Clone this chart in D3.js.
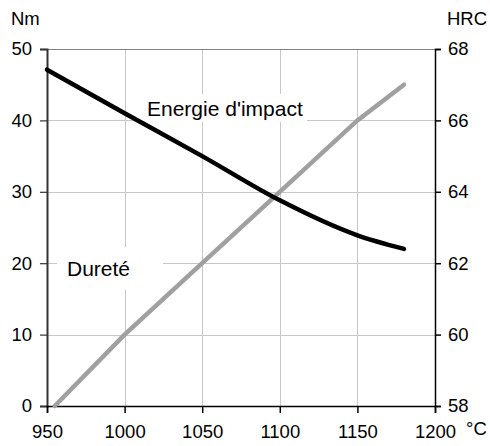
<!DOCTYPE html>
<html>
<head>
<meta charset="utf-8">
<script src="https://cdn.jsdelivr.net/npm/d3@7"></script>
<style>
  html, body { margin: 0; padding: 0; background: #fff; }
  svg text { font-family: "Liberation Sans", Arial, sans-serif; fill: #000; }
</style>
</head>
<body>
<div id="chart"></div>
<script>
// données
const tempTicks = [950, 1000, 1050, 1100, 1150, 1200];
const nmTicks = [0, 10, 20, 30, 40, 50];
const hrcTicks = [58, 60, 62, 64, 66, 68];

const energieTemp = [950, 1000, 1050, 1100, 1150, 1180];
const energieNm = [47.1, 41.0, 35.0, 28.8, 23.9, 22.0];

const dureteTemp = [955, 1000, 1050, 1100, 1150, 1180];
const dureteHrc = [58, 60, 62, 64, 66, 67];

const width = 490, height = 446;
const plot = { left: 47, right: 435, top: 49, bottom: 406 };

const svg = d3.select('#chart').append('svg')
  .attr('width', width)
  .attr('height', height);

const x = d3.scaleLinear().domain([950, 1200]).range([plot.left, plot.right]);
const yL = d3.scaleLinear().domain([0, 50]).range([plot.bottom, plot.top]);
const yR = d3.scaleLinear().domain([58, 68]).range([plot.bottom, plot.top]);

// grille
const grid = svg.append('g').attr('stroke', '#c8c8c8').attr('stroke-width', 1);
grid.selectAll('line.h')
  .data(nmTicks.slice(1, -1))
  .enter().append('line')
  .attr('x1', plot.left).attr('x2', plot.right)
  .attr('y1', d => Math.round(yL(d)) + 0.5).attr('y2', d => Math.round(yL(d)) + 0.5);
grid.selectAll('line.v')
  .data(tempTicks.slice(1, -1))
  .enter().append('line')
  .attr('y1', plot.top).attr('y2', plot.bottom)
  .attr('x1', d => Math.round(x(d)) + 0.5).attr('x2', d => Math.round(x(d)) + 0.5);
// bord supérieur
svg.append('line')
  .attr('x1', plot.left).attr('x2', plot.right)
  .attr('y1', yL(50) + 0.5).attr('y2', yL(50) + 0.5)
  .attr('stroke', '#808080').attr('stroke-width', 1);

// fonds blancs des étiquettes
svg.append('rect').attr('x', 141).attr('y', 94).attr('width', 166).attr('height', 28).attr('fill', '#fff');
svg.append('rect').attr('x', 57).attr('y', 247).attr('width', 106).attr('height', 43).attr('fill', '#fff');

// axes
const fontSize = '18.5px';

const axisLeft = svg.append('g')
  .attr('transform', `translate(${plot.left},0)`)
  .call(d3.axisLeft(yL).tickValues(nmTicks).tickSize(7).tickPadding(8));
const axisRight = svg.append('g')
  .attr('transform', `translate(${plot.right},0)`)
  .call(d3.axisRight(yR).tickValues(hrcTicks).tickSize(6).tickPadding(7));
const axisBottom = svg.append('g')
  .attr('transform', `translate(0,${plot.bottom})`)
  .call(d3.axisBottom(x).tickValues(tempTicks).tickFormat(d3.format('d')).tickSize(7).tickPadding(12));

[axisLeft, axisRight, axisBottom].forEach(a => {
  a.selectAll('text').style('font-size', fontSize).attr('font-family', null);
  a.attr('font-family', null).attr('font-size', null);
});
axisLeft.selectAll('path, line').attr('stroke', '#333');
axisLeft.select('path').attr('stroke-width', 2);
axisRight.selectAll('path, line').attr('stroke', '#000').attr('stroke-width', 1.5);
axisBottom.selectAll('path, line').attr('stroke', '#000').attr('stroke-width', 1.5);
axisLeft.selectAll('.tick line').attr('stroke-width', 1.2);

// titres des axes
svg.append('text').attr('x', 11).attr('y', 25).style('font-size', fontSize).text('Nm');
svg.append('text').attr('x', 447).attr('y', 25).style('font-size', fontSize).text('HRC');
svg.append('text').attr('x', 466).attr('y', 435).style('font-size', fontSize).text('°C');

// courbes
const energie = energieTemp.map((t, i) => ({ t, v: energieNm[i] }));
const durete = dureteTemp.map((t, i) => ({ t, v: dureteHrc[i] }));

svg.append('path')
  .datum(durete)
  .attr('fill', 'none')
  .attr('stroke', '#a0a0a0')
  .attr('stroke-width', 4.5)
  .attr('stroke-linecap', 'round')
  .attr('d', d3.line().x(d => x(d.t)).y(d => yR(d.v)));

svg.append('path')
  .datum(energie)
  .attr('fill', 'none')
  .attr('stroke', '#000')
  .attr('stroke-width', 4.5)
  .attr('stroke-linecap', 'round')
  .attr('stroke-linejoin', 'round')
  .attr('d', d3.line().x(d => x(d.t)).y(d => yL(d.v)).curve(d3.curveMonotoneX));

// étiquettes des séries
svg.append('text').attr('x', 147).attr('y', 116).style('font-size', '21px').text("Energie d'impact");
svg.append('text').attr('x', 67).attr('y', 276).style('font-size', '21px').text('Dureté');
</script>
</body>
</html>
